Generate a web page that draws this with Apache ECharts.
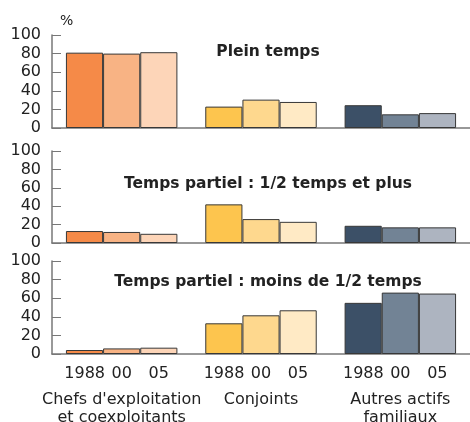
<!DOCTYPE html>
<html>
<head>
<meta charset="utf-8">
<script src="https://cdn.jsdelivr.net/npm/echarts@6/dist/echarts.min.js"></script>
<style>
  html, body { margin: 0; padding: 0; background: #fff; }
  #chart { width: 470px; height: 422px; }
</style>
</head>
<body>
<div id="chart"></div>
<script>
  // catégories et années
  const categories = ["Chefs d'exploitation\net coexploitants", 'Conjoints', 'Autres actifs\nfamiliaux'];
  const years = ['1988', '00', '05'];
  const yTicks = [0, 20, 40, 60, 80, 100];
  const panelTitles = ['Plein temps', 'Temps partiel : 1/2 temps et plus', 'Temps partiel : moins de 1/2 temps'];

  // Plein temps (%)
  const plein1988 = [81, 23, 24.5];
  const plein2000 = [80, 30.5, 14.7];
  const plein2005 = [81.5, 28, 16];
  // Temps partiel : 1/2 temps et plus
  const demi1988 = [13, 42, 18.7];
  const demi2000 = [12, 26, 17];
  const demi2005 = [10, 23, 17];
  // Temps partiel : moins de 1/2 temps
  const moins1988 = [4.3, 33, 55];
  const moins2000 = [6, 41.6, 66];
  const moins2005 = [6.8, 47, 65];

  // couleurs par catégorie (orange, jaune, bleu)
  const colors1988 = ['#F58A48', '#FDC54E', '#3C5067'];
  const colors2000 = ['#F8B384', '#FED88E', '#728395'];
  const colors2005 = ['#FDD5B8', '#FFEAC5', '#ADB4C0'];

  const font = 'DejaVu Sans';
  const grids = [
    { left: 52, right: 0, top: 35, height: 93, outerBoundsMode: 'none' },
    { left: 52, right: 0, top: 151, height: 92, outerBoundsMode: 'none' },
    { left: 52, right: 0, top: 261, height: 93, outerBoundsMode: 'none' }
  ];
  const titleTops = [39, 171, 269];

  let myChart = echarts.init(document.getElementById('chart'));

  function xLabel(value) {
    let lines = value.split('\n');
    let s = years.map(y => '{y|' + y + '}').join('');
    lines.forEach(l => { s += '\n{c|' + l + '}'; });
    return s;
  }

  let xAxes = grids.map((g, i) => ({
    type: 'category',
    gridIndex: i,
    data: categories,
    axisLine: { lineStyle: { color: '#777', width: 1.5 } },
    axisTick: { show: false },
    axisLabel: {
      show: i === 2,
      interval: 0,
      margin: 2,
      formatter: xLabel,
      rich: {
        y: { width: 37, align: 'center', lineHeight: 35, fontSize: 16, fontFamily: font, color: '#222' },
        c: { lineHeight: 18, fontSize: 16, fontFamily: font, color: '#222' }
      }
    }
  }));

  let yAxes = grids.map((g, i) => ({
    type: 'value',
    gridIndex: i,
    min: yTicks[0],
    max: yTicks[yTicks.length - 1],
    interval: 20,
    axisLine: { show: true, lineStyle: { color: '#777', width: 1.5 } },
    axisTick: { show: true, inside: true, length: 9, lineStyle: { color: '#777' } },
    splitLine: { show: false },
    axisLabel: { margin: 11, fontSize: 16, fontFamily: font, color: '#222' }
  }));

  const panelData = [
    [plein1988, plein2000, plein2005],
    [demi1988, demi2000, demi2005],
    [moins1988, moins2000, moins2005]
  ];
  const yearColors = [colors1988, colors2000, colors2005];

  let series = [];
  panelData.forEach((sets, p) => {
    sets.forEach((vals, k) => {
      series.push({
        type: 'bar',
        name: years[k],
        xAxisIndex: p,
        yAxisIndex: p,
        barGap: 0,
        barCategoryGap: '20%',
        animation: false,
        data: vals.map((v, c) => ({
          value: v,
          itemStyle: { color: yearColors[k][c], borderColor: '#383838', borderWidth: 1 }
        }))
      });
    });
  });

  let titles = panelTitles.map((t, i) => ({
    text: t,
    left: 263,
    top: titleTops[i],
    textAlign: 'center',
    textStyle: { fontSize: 15.5, fontWeight: 'bold', fontFamily: font, color: '#222' }
  }));
  titles.push({
    text: '%',
    left: 55,
    top: 9,
    textStyle: { fontSize: 14, fontWeight: 'normal', fontFamily: font, color: '#222' }
  });

  myChart.setOption({
    animation: false,
    title: titles,
    grid: grids,
    xAxis: xAxes,
    yAxis: yAxes,
    series: series
  });
</script>
</body>
</html>
